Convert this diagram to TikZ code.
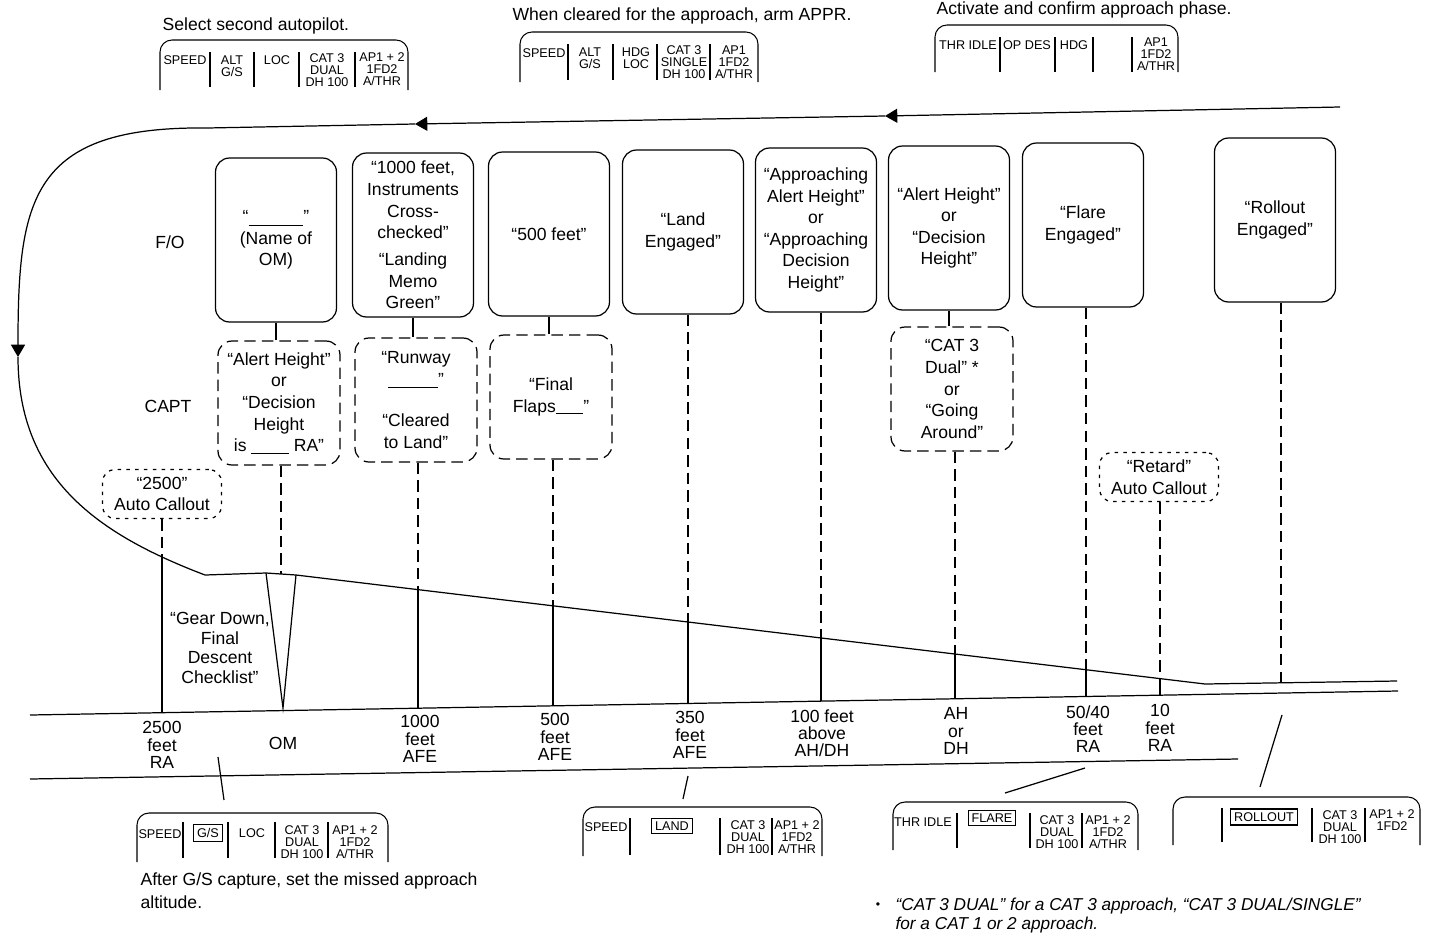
\documentclass[tikz,border=0pt]{standalone}
\usepackage{fontspec}
\setmainfont{Liberation Sans}
\usetikzlibrary{arrows.meta}

\newcommand{\callfont}{\fontsize{10}{12.3}\selectfont}
\newcommand{\gndfont}{\fontsize{10}{9.8}\selectfont}
\newcommand{\fmafont}{\fontsize{7.2}{6.9}\selectfont}

\tikzstyle{fobox}=[draw, rounded corners=0.28cm, minimum width=2.42cm, minimum height=3.28cm, align=center, font=\callfont, inner sep=1pt]
\tikzstyle{cpbox}=[draw, dash pattern=on 6.5pt off 3.5pt, rounded corners=0.28cm, minimum width=2.44cm, minimum height=2.48cm, align=center, font=\callfont, inner sep=1pt]
\tikzstyle{acbox}=[draw, dash pattern=on 2pt off 3pt, rounded corners=0.25cm, minimum width=2.38cm, minimum height=0.98cm, align=center, font=\callfont, inner sep=1pt]
\tikzstyle{vdash}=[dash pattern=on 6.5pt off 3.5pt]
\tikzstyle{fma}=[rounded corners=0.24cm, line width=0.6pt]
\tikzstyle{fmasep}=[line width=0.6pt]
\tikzstyle{fmatxt}=[font=\fmafont, align=center, anchor=north, inner sep=0pt]
\tikzstyle{modebox}=[draw, line width=0.6pt, font=\fmafont, inner sep=2pt]
\tikzstyle{gnd}=[font=\gndfont, align=center]
\tikzstyle{note}=[font=\callfont, anchor=west, inner sep=0pt]
\tikzstyle{arr}=[-{Triangle[length=7pt,width=8pt]}]

\begin{document}
\begin{tikzpicture}[x=0.02cm, y=-0.02cm, line width=0.7pt]
\useasboundingbox (0,0) rectangle (1434,937);

% what to do at each phase
\node[note] (i1) at (162,26) {Select second autopilot.};
\node[note] (i2) at (512,16) {When cleared for the approach, arm APPR.};
\node[note] (i3) at (936,10) {Activate and confirm approach phase.};

% FMA, top row
\draw[fma] (160,90) -- (160,40) -- (408,40) -- (408,90);
\draw[fmasep] (210,52) -- (210,87) (254,52) -- (254,87) (299,52) -- (299,87) (355,52) -- (355,87);
\node[fmatxt] (a1) at (185,55) {SPEED};
\node[fmatxt] (a2) at (232,55) {ALT\\G/S};
\node[fmatxt] (a3) at (277,55) {LOC};
\node[fmatxt] (a4) at (327,53) {CAT 3\\DUAL\\DH 100};
\node[fmatxt] (a5) at (382,52) {AP1 + 2\\1FD2\\A/THR};

\draw[fma] (520,82) -- (520,32) -- (758,32) -- (758,82);
\draw[fmasep] (568,44) -- (568,80) (613,44) -- (613,80) (657,44) -- (657,80) (710,44) -- (710,80);
\node[fmatxt] (b1) at (544,48) {SPEED};
\node[fmatxt] (b2) at (590,47) {ALT\\G/S};
\node[fmatxt] (b3) at (636,47) {HDG\\LOC};
\node[fmatxt] (b4) at (684,45) {CAT 3\\SINGLE\\DH 100};
\node[fmatxt] (b5) at (734,45) {AP1\\1FD2\\A/THR};

\draw[fma] (935,72) -- (935,25) -- (1178,25) -- (1178,72);
\draw[fmasep] (1000,37) -- (1000,72) (1055,37) -- (1055,72) (1093,37) -- (1093,72) (1132,37) -- (1132,72);
\node[fmatxt] (d1) at (968,40) {THR IDLE};
\node[fmatxt] (d2) at (1027,40) {OP DES};
\node[fmatxt] (d3) at (1074,40) {HDG};
\node[fmatxt] (d5) at (1156,37) {AP1\\1FD2\\A/THR};

% flight path
\coordinate (r0) at (1340,107);
\coordinate (ar1) at (885,116);
\coordinate (ar2) at (415,124);
\coordinate (t0) at (207,128);
\coordinate (ar3) at (18,357);
\coordinate (b0) at (205,575);
\coordinate (vl) at (266,573);
\coordinate (vr) at (296,575);
\coordinate (vb) at (283,708);
\coordinate (fl) at (1205,684);
\coordinate (fe) at (1397,681);
\draw[arr] (r0) -- (ar1);
\draw[arr] (ar1) -- (ar2);
\draw[arr] (ar2) -- (t0) .. controls (30,126) and (18,200) .. (ar3);
\draw (ar3) .. controls (18,480) and (100,535) .. (b0) -- (vl) -- (vr) -- (fl) -- (fe);
\draw (vl) -- (vb) -- (vr);

% runway
\coordinate (gl1) at (30,715);
\coordinate (gr1) at (1398,691);
\coordinate (gl2) at (30,779);
\coordinate (gr2) at (1238,759);
\draw (gl1) -- (gr1);
\draw (gl2) -- (gr2);

% crew
\node (fo) at (170,242) {F/O};
\node (capt) at (168,406) {CAPT};

\node[fobox] (foOM) at (276,240) {“\rule[-2pt]{1.1cm}{0.4pt}”\\(Name of\\OM)};
\node[fobox] (fo1000) at (413,235) {“1000 feet,\\Instruments\\Cross-\\checked”\\[3pt]“Landing\\Memo\\Green”};
\node[fobox] (fo500) at (549,234) {“500 feet”};
\node[fobox] (fo350) at (683,232) {“Land\\Engaged”};
\node[fobox] (fo100) at (816,230) {“Approaching\\Alert Height”\\or\\“Approaching\\Decision\\Height”};
\node[fobox] (foAH) at (949,228) {“Alert Height”\\or\\“Decision\\Height”};
\node[fobox] (fo50) at (1083,225) {“Flare\\Engaged”};
\node[fobox] (foRoll) at (1275,220) {“Rollout\\Engaged”};

\node[cpbox] (cpOM) at (279,403) {“Alert Height”\\or\\“Decision\\Height\\is \rule[-1pt]{0.75cm}{0.4pt} RA”};
\node[cpbox] (cp1000) at (416,400) {“Runway\\\rule[-1pt]{1cm}{0.4pt}”\\[11pt]“Cleared\\to Land”};
\node[cpbox] (cp500) at (551,397) {“Final\\Flaps\rule[-1pt]{0.55cm}{0.4pt}”};
\node[cpbox] (cpAH) at (952,389) {“CAT 3\\Dual” *\\or\\“Going\\Around”};

\node[acbox] (ac2500) at (162,494) {“2500”\\Auto Callout};
\node[acbox] (acRet) at (1159,477) {“Retard”\\Auto Callout};

\node[font=\fontsize{10}{11.3}\selectfont, align=center] (gear) at (220,648) {“Gear Down,\\Final\\Descent\\Checklist”};

\draw (foOM.south) -- (foOM.south |- cpOM.north);
\draw (fo1000.south) -- (fo1000.south |- cp1000.north);
\draw (fo500.south) -- (fo500.south |- cp500.north);
\draw (foAH.south) -- (foAH.south |- cpAH.north);

% stations on the path
\coordinate (p2500) at (162,561);  \coordinate (g2500) at (162,713);
\coordinate (pOM) at (281,574);
\coordinate (p1000) at (418,590);  \coordinate (g1000) at (418,708);
\coordinate (p500) at (553,606);   \coordinate (g500) at (553,706);
\coordinate (p350) at (688,622);   \coordinate (g350) at (688,703);
\coordinate (p100) at (821,638);   \coordinate (g100) at (821,701);
\coordinate (pAH) at (955,654);    \coordinate (gAH) at (955,699);
\coordinate (p50) at (1086,670);   \coordinate (g50) at (1086,696);
\coordinate (p10) at (1160,679);   \coordinate (g10) at (1160,695);
\coordinate (pRoll) at (1281,683);

\draw[vdash] (ac2500.south -| p2500) -- (p2500);
\draw (p2500) -- (g2500);
\draw[vdash] (cpOM.south -| pOM) -- (pOM);
\draw[vdash] (cp1000.south -| p1000) -- (p1000);
\draw (p1000) -- (g1000);
\draw[vdash] (cp500.south -| p500) -- (p500);
\draw (p500) -- (g500);
\draw[vdash] (fo350.south -| p350) -- (p350);
\draw (p350) -- (g350);
\draw[vdash] (fo100.south -| p100) -- (p100);
\draw (p100) -- (g100);
\draw[vdash] (cpAH.south -| pAH) -- (pAH);
\draw (pAH) -- (gAH);
\draw[vdash] (fo50.south -| p50) -- (p50);
\draw (p50) -- (g50);
\draw[vdash] (acRet.south -| p10) -- (p10);
\draw (p10) -- (g10);
\draw[vdash] (foRoll.south -| pRoll) -- (pRoll);

% heights
\node[gnd] (l2500) at (162,745) {2500\\feet\\RA};
\node[gnd] (lOM) at (283,743) {OM};
\node[gnd] (l1000) at (420,739) {1000\\feet\\AFE};
\node[gnd] (l500) at (555,737) {500\\feet\\AFE};
\node[gnd] (l350) at (690,735) {350\\feet\\AFE};
\node[gnd] (l100) at (822,733) {100 feet\\above\\AH/DH};
\node[gnd] (lAH) at (956,731) {AH\\or\\DH};
\node[gnd] (l50) at (1088,729) {50/40\\feet\\RA};
\node[gnd] (l10) at (1160,728) {10\\feet\\RA};

% leaders to the lower FMA
\coordinate (k1a) at (218,757); \coordinate (k1b) at (224,800);
\coordinate (k2a) at (688,776); \coordinate (k2b) at (683,799);
\coordinate (k3a) at (1085,768); \coordinate (k3b) at (1005,793);
\coordinate (k4a) at (1282,715); \coordinate (k4b) at (1260,787);
\draw (k1a) -- (k1b);
\draw (k2a) -- (k2b);
\draw (k3a) -- (k3b);
\draw (k4a) -- (k4b);

% FMA, bottom row
\draw[fma] (137,862) -- (137,813) -- (388,813) -- (388,862);
\draw[fmasep] (183,822) -- (183,858) (228,822) -- (228,858) (275,822) -- (275,858) (328,822) -- (328,858);
\node[fmatxt] (e1) at (160,829) {SPEED};
\node[modebox] (e2) at (208,833) {G/S};
\node[fmatxt] (e3) at (252,828) {LOC};
\node[fmatxt] (e4) at (302,825) {CAT 3\\DUAL\\DH 100};
\node[fmatxt] (e5) at (355,825) {AP1 + 2\\1FD2\\A/THR};

\draw[fma] (583,856) -- (583,807) -- (822,807) -- (822,856);
\draw[fmasep] (630,818) -- (630,855) (720,818) -- (720,855) (772,818) -- (772,855);
\node[fmatxt] (f1) at (606,822) {SPEED};
\node[modebox] (f2) at (672,826) {LAND};
\node[fmatxt] (f4) at (748,820) {CAT 3\\DUAL\\DH 100};
\node[fmatxt] (f5) at (797,820) {AP1 + 2\\1FD2\\A/THR};

\draw[fma] (893,850) -- (893,802) -- (1138,802) -- (1138,850);
\draw[fmasep] (957,813) -- (957,848) (1030,813) -- (1030,848) (1082,813) -- (1082,848);
\node[fmatxt] (h1) at (923,817) {THR IDLE};
\node[modebox] (h2) at (992,818) {FLARE};
\node[fmatxt] (h4) at (1057,815) {CAT 3\\DUAL\\DH 100};
\node[fmatxt] (h5) at (1108,815) {AP1 + 2\\1FD2\\A/THR};

\draw[fma] (1173,845) -- (1173,797) -- (1420,797) -- (1420,845);
\draw[fmasep] (1222,808) -- (1222,842) (1312,808) -- (1312,842) (1365,808) -- (1365,842);
\node[modebox] (m2) at (1264,817) {ROLLOUT};
\node[fmatxt] (m4) at (1340,810) {CAT 3\\DUAL\\DH 100};
\node[fmatxt] (m5) at (1392,809) {AP1 + 2\\1FD2};

% notes
\node[font=\fontsize{10}{13}\selectfont, align=left, anchor=north west, inner sep=0pt] (after) at (140,872) {After G/S capture, set the missed approach\\altitude.};
\node[font=\scriptsize, inner sep=0pt] (fmark) at (878,906) {•};
\node[font=\itshape\fontsize{9.8}{11.3}\selectfont, align=left, anchor=north west, inner sep=0pt] (foot) at (895,897) {“CAT 3 DUAL” for a CAT 3 approach, “CAT 3 DUAL/SINGLE”\\for a CAT 1 or 2 approach.};

\end{tikzpicture}
\end{document}
